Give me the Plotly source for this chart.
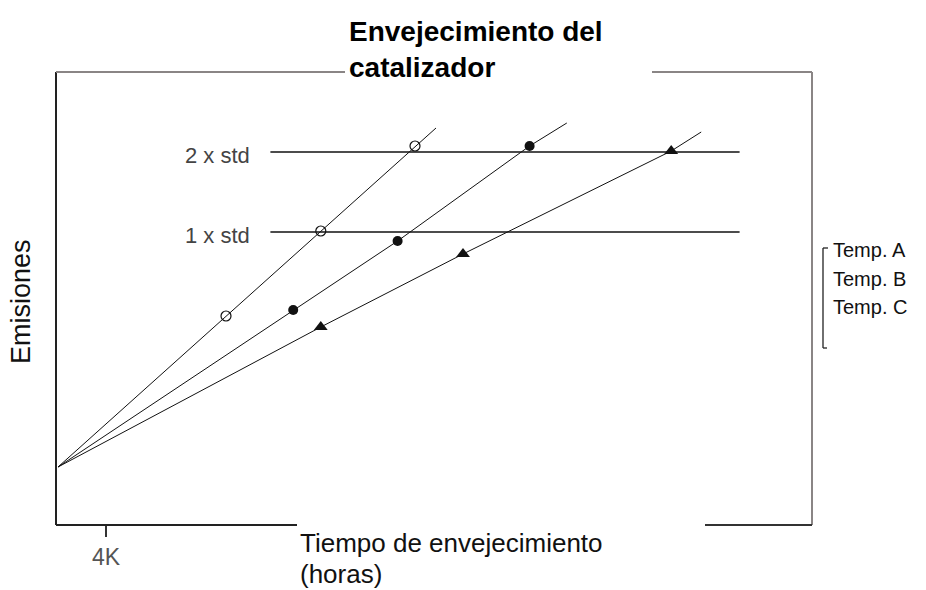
import plotly.graph_objects as go

# Data (x: aging hours in thousands, y: emissions in arbitrary units)
origin_x = 0.0
origin_y = 5.8

a_x = [14.0, 21.9, 29.75]
a_y = [20.9, 29.4, 37.9]
a_end = (31.5, 39.7)

b_x = [19.6, 28.3, 39.3]
b_y = [21.5, 28.4, 37.9]
b_end = (42.4, 40.2)

c_x = [21.9, 33.75, 51.1]
c_y = [19.8, 27.1, 37.4]
c_end = (53.6, 39.3)

std_levels = [37.3, 29.3]
std_labels = ["2 x std", "1 x std"]
std_x = [17.7, 56.8]

series_names = ["Temp. A", "Temp. B", "Temp. C"]
tick_vals = [4]
tick_text = ["4K"]

title_text = "<b>Envejecimiento del<br>catalizador</b>"
xtitle_lines = ["Tiempo de envejecimiento", "(horas)"]

fig = go.Figure()

# std lines
for lvl in std_levels:
    fig.add_trace(go.Scatter(x=std_x, y=[lvl, lvl], mode="lines",
                             line=dict(color="#111", width=1.5),
                             showlegend=False, hoverinfo="skip"))

series = [
    (a_x, a_y, a_end, dict(symbol="circle-open", size=10, color="#111", line=dict(width=1.2))),
    (b_x, b_y, b_end, dict(symbol="circle", size=10, color="#111")),
    (c_x, c_y, c_end, dict(symbol="triangle-up", size=12, color="#111")),
]
for name, (xs, ys, end, mk) in zip(series_names, series):
    fig.add_trace(go.Scatter(x=[origin_x] + xs + [end[0]], y=[origin_y] + ys + [end[1]],
                             mode="lines", line=dict(color="#111", width=1),
                             showlegend=False, hoverinfo="skip"))
    fig.add_trace(go.Scatter(x=xs, y=ys, mode="markers", marker=mk, name=name,
                             showlegend=False))

W, H = 926, 590
L, R, T, B = 56, 812, 72, 525
px = lambda x: (x - L) / (R - L)
py = lambda y: (B - y) / (B - T)

shapes = [
    dict(type="line", xref="paper", yref="paper", x0=0, x1=0, y0=0, y1=1, line=dict(color="#222", width=2)),
    dict(type="line", xref="paper", yref="paper", x0=0, x1=px(345), y0=1, y1=1, line=dict(color="#8a8585", width=2)),
    dict(type="line", xref="paper", yref="paper", x0=px(652), x1=1, y0=1, y1=1, line=dict(color="#8a8585", width=2)),
    dict(type="line", xref="paper", yref="paper", x0=1, x1=1, y0=0, y1=1, line=dict(color="#8a8585", width=2)),
    dict(type="line", xref="paper", yref="paper", x0=0, x1=px(297), y0=0, y1=0, line=dict(color="#222", width=2)),
    dict(type="line", xref="paper", yref="paper", x0=px(705), x1=1, y0=0, y1=0, line=dict(color="#333", width=2)),
    # legend bracket
    dict(type="line", xref="paper", yref="paper", x0=px(823), x1=px(823), y0=py(348), y1=py(248), line=dict(color="#222", width=1.3)),
    dict(type="line", xref="paper", yref="paper", x0=px(823), x1=px(828), y0=py(248), y1=py(248), line=dict(color="#222", width=1.3)),
    dict(type="line", xref="paper", yref="paper", x0=px(823), x1=px(827), y0=py(348), y1=py(348), line=dict(color="#222", width=1.3)),
]

ann = []
for lvl, lab in zip(std_levels, std_labels):
    ann.append(dict(x=16.2, y=lvl, xref="x", yref="y", text=lab, showarrow=False,
                    xanchor="right", yanchor="middle", yshift=-3,
                    font=dict(size=22, color="#444")))
for i, name in enumerate(series_names):
    ann.append(dict(x=px(831), y=py(250 + i * 28.5), xref="paper", yref="paper", text=name,
                    showarrow=False, xanchor="left", yanchor="middle",
                    font=dict(size=20, color="#111")))
ann.append(dict(x=px(21), y=py(302), xref="paper", yref="paper", text="Emisiones",
                textangle=-90, showarrow=False, xanchor="center", yanchor="middle",
                font=dict(size=27, color="#111")))
for i, t in enumerate(xtitle_lines):
    ann.append(dict(x=px(298), y=py(543 + i * 31), xref="paper", yref="paper",
                    text=t, showarrow=False, xanchor="left", yanchor="middle",
                    font=dict(size=26, color="#111")))
ann.append(dict(x=px(347), y=py(50), xref="paper", yref="paper",
                text=title_text, align="left",
                showarrow=False, xanchor="left", yanchor="middle",
                font=dict(size=28, color="#000")))

fig.update_layout(
    width=W, height=H,
    margin=dict(l=L, r=W - R, t=T, b=H - B),
    paper_bgcolor="white", plot_bgcolor="white",
    font=dict(family="Arial, Liberation Sans, sans-serif"),
    shapes=shapes, annotations=ann,
    xaxis=dict(range=[(L - 58) / 12, (R - 58) / 12], showgrid=False, zeroline=False,
               showline=False, ticks="outside", tickvals=tick_vals, ticktext=tick_text,
               ticklen=11, tickwidth=1.5, tickcolor="#333",
               tickfont=dict(size=23, color="#555")),
    yaxis=dict(range=[0, (B - T) / 10], showgrid=False, zeroline=False,
               showline=False, showticklabels=False, ticks=""),
)

fig.write_html("out.html", config={"displayModeBar": False},
               post_script="document.body.style.margin='0';")
